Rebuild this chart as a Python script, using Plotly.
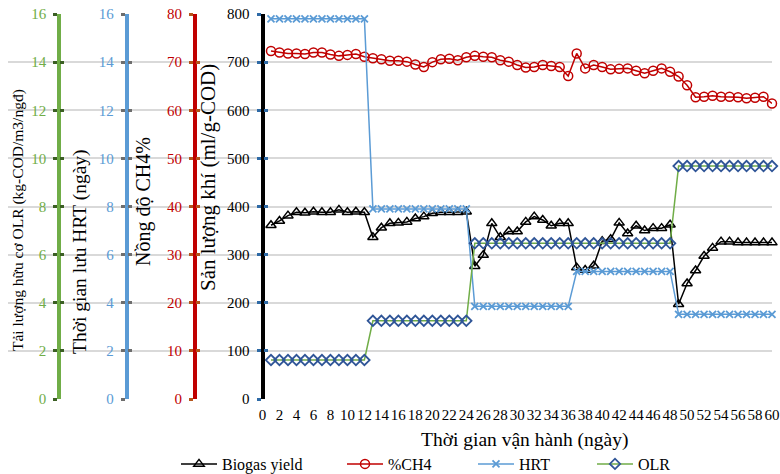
import plotly.graph_objects as go

# ---------------- data ----------------
days = list(range(1, 61))
biogas_yield = [361, 370, 381, 388, 387, 389, 388, 388, 393, 388,
                389, 388, 336, 356, 365, 366, 368, 375, 379, 386,
                388, 388, 388, 389, 276, 299, 365, 336, 348, 348,
                368, 379, 372, 360, 365, 365, 273, 268, 277, 328,
                332, 366, 344, 360, 350, 355, 355, 362, 197, 240,
                267, 297, 314, 327, 327, 325, 325, 325, 325, 325]
ch4_pct = [72.3, 72.0, 71.8, 71.8, 71.7, 72.0, 72.0, 71.6, 71.3, 71.5,
           71.7, 71.1, 70.8, 70.6, 70.3, 70.3, 70.1, 69.5, 69.0, 70.0,
           70.6, 70.7, 70.4, 71.0, 71.3, 71.1, 71.0, 70.4, 70.1, 69.4,
           68.9, 69.0, 69.4, 69.2, 69.0, 67.1, 71.8, 68.7, 69.4, 69.0,
           68.5, 68.6, 68.7, 68.2, 67.7, 68.2, 68.7, 68.0, 67.0, 65.2,
           62.7, 62.8, 63.0, 62.8, 62.8, 62.7, 62.5, 62.6, 62.8, 61.4]
hrt = [15.8] * 12 + [7.9] * 12 + [3.85] * 12 + [5.3] * 12 + [3.52] * 12
olr = [1.62] * 12 + [3.25] * 12 + [6.47] * 12 + [6.47] * 12 + [9.68] * 12

x_ticks = list(range(0, 61, 2))
y_main_ticks = list(range(0, 801, 100))
y_ch4_ticks = list(range(0, 81, 10))
y_hrt_ticks = list(range(0, 17, 2))
y_olr_ticks = list(range(0, 17, 2))

# ---------------- geometry helpers (viewport pixels -> figure) ----------------
OFF = 0                     # body margin removed by post_script below
W, H = 780, 474
PLOT_L, PLOT_R, PLOT_T, PLOT_B = 8, 772, 14, 399   # viewport pixels
ML, MR = PLOT_L - OFF, W - (PLOT_R - OFF)
MT, MB = PLOT_T - OFF, H - (PLOT_B - OFF)
PW, PH = W - ML - MR, H - MT - MB
X0PX = 262.5
XMAX = 60
scale = (PLOT_R - X0PX) / XMAX
XMIN = -(X0PX - PLOT_L) / scale


def px(xp):
    return (xp - PLOT_L) / PW


def py(yp):
    return (PLOT_B - yp) / PH


FONT = "Liberation Serif"
GREEN, BLUE, RED, BLACK = "#70ad47", "#5b9bd5", "#c00000", "#000000"

fig = go.Figure()

fig.add_trace(go.Scatter(
    x=days, y=biogas_yield, name="Biogas yield", mode="lines+markers",
    line=dict(color=BLACK, width=1.5),
    marker=dict(symbol="triangle-up-open", size=9, color=BLACK, line=dict(width=1.5)),
    yaxis="y", legend="legend", cliponaxis=False))
fig.add_trace(go.Scatter(
    x=days, y=ch4_pct, name="%CH4", mode="lines+markers",
    line=dict(color=RED, width=1.5),
    marker=dict(symbol="circle-open", size=9, color=RED, line=dict(width=1.5)),
    yaxis="y2", legend="legend2", cliponaxis=False))
fig.add_trace(go.Scatter(
    x=days, y=hrt, name="HRT", mode="lines+markers",
    line=dict(color=BLUE, width=1.5),
    marker=dict(symbol="x-thin-open", size=7, color=BLUE, line=dict(width=1.8, color=BLUE)),
    yaxis="y3", legend="legend3", cliponaxis=False))
fig.add_trace(go.Scatter(
    x=days, y=olr, name="OLR", mode="lines+markers",
    line=dict(color=GREEN, width=1.5),
    marker=dict(symbol="diamond-open", size=8, color="#2f5597", line=dict(width=1.8)),
    yaxis="y4", legend="legend4", cliponaxis=False))

# empty traces for the inner halves of the crossing tick marks
for ax in ["y5", "y6", "y7", "y8"]:
    fig.add_trace(go.Scatter(x=[], y=[], yaxis=ax, showlegend=False, hoverinfo="skip"))

axis_specs = [
    ("yaxis", "yaxis5", 262.5, [0, 800], y_main_ticks, BLACK, "#2e6aa6", BLACK),
    ("yaxis2", "yaxis6", 195.0, [0, 80], y_ch4_ticks, RED, "#b5561c", RED),
    ("yaxis3", "yaxis7", 126.8, [0, 16], y_hrt_ticks, BLUE, "#6d6d6d", BLUE),
    ("yaxis4", "yaxis8", 59.3, [0, 16], y_olr_ticks, GREEN, "#3b5f24", GREEN),
]

layout_axes = {}
for i, (key, okey, xpos, rng, tv, lc, tc, fc) in enumerate(axis_specs):
    d = dict(range=rng, tickvals=tv, anchor="free", position=px(xpos), side="left",
             showline=True, linecolor=lc, linewidth=4,
             ticks="outside", ticklen=4, tickwidth=3, tickcolor=tc,
             tickfont=dict(family=FONT, size=15, color=fc),
             ticklabelstandoff=4, ticklabeloverflow="allow",
             zeroline=False, fixedrange=True, automargin=False)
    if key == "yaxis":
        d.update(showgrid=True, gridcolor="#d9d9d9", gridwidth=1.5)
    else:
        d.update(showgrid=False, overlaying="y")
    layout_axes[key] = d
    layout_axes[okey] = dict(range=rng, tickvals=tv, anchor="free", position=px(xpos),
                             side="left", overlaying="y", showline=False, showgrid=False,
                             zeroline=False, ticks="inside", ticklen=4, tickwidth=3,
                             tickcolor=tc, showticklabels=False, automargin=False)

fig.update_layout(**layout_axes)

fig.update_layout(
    width=W, height=H,
    margin=dict(l=ML, r=MR, t=MT, b=MB, pad=0, autoexpand=False),
    paper_bgcolor="white", plot_bgcolor="white",
    font=dict(family=FONT, color=BLACK),
    xaxis=dict(range=[XMIN, XMAX], tickvals=x_ticks, ticktext=[str(v) for v in x_ticks],
               tickangle=0, showgrid=False, zeroline=False, showline=False, ticks="",
               automargin=False, ticklabeloverflow="allow", ticklabelstandoff=5,
               fixedrange=True,
               tickfont=dict(family=FONT, size=15, color=BLACK)),
    showlegend=True,
)

leg_common = dict(orientation="h", yanchor="middle", xanchor="left",
                  bgcolor="rgba(0,0,0,0)", itemwidth=36,
                  font=dict(family=FONT, size=16, color=BLACK))
legend_x = [176, 342, 473, 592]
for i, lx in enumerate(legend_x):
    key = "legend" if i == 0 else f"legend{i + 1}"
    fig.update_layout(**{key: dict(leg_common, x=px(lx), y=py(464))})

annos = [
    ("Tải lượng hữu cơ OLR (kg-COD/m3/ngđ)", 18, 220, 15.5),
    ("Thời gian lưu HRT (ngày)", 80, 252, 19.5),
    ("Nồng độ CH4%", 143, 202, 20),
    ("Sản lượng khí (ml/g-COD)", 208, 178, 21),
]
for text, xp, yp, fs in annos:
    fig.add_annotation(text=text, x=px(xp), y=py(yp), xref="paper", yref="paper",
                       textangle=-90, showarrow=False, xanchor="center", yanchor="middle",
                       font=dict(family=FONT, size=fs, color=BLACK))

fig.add_annotation(text="Thời gian vận hành (ngày)", x=px(524), y=py(440),
                   xref="paper", yref="paper", showarrow=False,
                   xanchor="center", yanchor="middle",
                   font=dict(family=FONT, size=19.5, color=BLACK))

fig.write_html("out.html", config={"displayModeBar": False},
               post_script="document.body.style.margin='0px';")
